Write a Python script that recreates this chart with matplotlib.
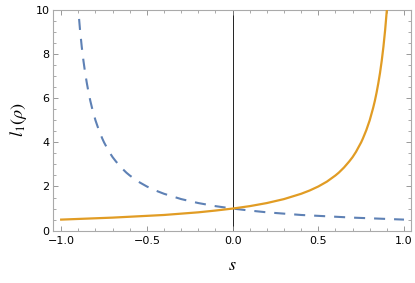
import matplotlib
matplotlib.use("Agg")
import matplotlib.pyplot as plt
from matplotlib.ticker import MultipleLocator

# values
s_orange = [-1.0, -0.9, -0.8, -0.7, -0.6, -0.5, -0.4, -0.3, -0.2, -0.1, 0.0,
            0.1, 0.2, 0.3, 0.4, 0.45, 0.5, 0.55, 0.6, 0.62, 0.65, 0.68, 0.7,
            0.72, 0.75, 0.76, 0.78, 0.8, 0.82, 0.83, 0.84, 0.85, 0.86, 0.87,
            0.88, 0.89, 0.9, 0.905]
l_orange = [0.50, 0.53, 0.56, 0.59, 0.63, 0.67, 0.71, 0.77, 0.83, 0.91, 1.00,
            1.11, 1.25, 1.43, 1.67, 1.82, 2.00, 2.22, 2.50, 2.63, 2.86, 3.13, 3.33,
            3.57, 4.00, 4.17, 4.55, 5.00, 5.56, 5.88, 6.25, 6.67, 7.14, 7.69,
            8.33, 9.09, 10.0, 10.5]

s_blue = [-0.905, -0.9, -0.89, -0.88, -0.87, -0.86, -0.85, -0.84, -0.83, -0.82,
          -0.8, -0.78, -0.76, -0.75, -0.72, -0.7, -0.68, -0.65, -0.62, -0.6,
          -0.55, -0.5, -0.45, -0.4, -0.3, -0.2, -0.1, 0.0, 0.1, 0.2, 0.3, 0.4,
          0.5, 0.6, 0.7, 0.8, 0.9, 1.0]
l_blue = [10.5, 10.0, 9.09, 8.33, 7.69, 7.14, 6.67, 6.25, 5.88, 5.56,
          5.00, 4.55, 4.17, 4.00, 3.57, 3.33, 3.13, 2.86, 2.63, 2.50,
          2.22, 2.00, 1.82, 1.67, 1.43, 1.25, 1.11, 1.00, 0.91, 0.83, 0.77, 0.71,
          0.67, 0.63, 0.59, 0.56, 0.53, 0.50]

plt.rcParams['mathtext.fontset'] = 'stix'

fig = plt.figure(figsize=(4.15, 2.83), dpi=100)
ax = fig.add_axes([0.128, 0.185, 0.862, 0.78])

ax.axvline(0, color='#222222', lw=0.7, zorder=1)
ax.plot(s_blue, l_blue, color='#5E81B5', lw=1.5, dashes=(5.3, 4.3), zorder=2)
ax.plot(s_orange, l_orange, color='#E19C24', lw=1.6, zorder=3)

ax.set_xlim(-1.047, 1.04)
ax.set_ylim(0, 10)

ax.xaxis.set_major_locator(MultipleLocator(0.5))
ax.xaxis.set_minor_locator(MultipleLocator(0.1))
ax.yaxis.set_major_locator(MultipleLocator(2))
ax.yaxis.set_minor_locator(MultipleLocator(0.5))
ax.set_xticks([-1.0, -0.5, 0.0, 0.5, 1.0])
ax.set_xticklabels(['−1.0', '−0.5', '0.0', '0.5', '1.0'])

for sp in ax.spines.values():
    sp.set_color('#aaaaaa')
    sp.set_linewidth(0.8)
ax.tick_params(which='both', direction='in', top=True, right=True,
               color='#888888', labelsize=8, labelcolor='black')
ax.tick_params(axis='x', pad=4)
ax.tick_params(axis='y', pad=2.5)
ax.tick_params(which='major', length=3.5, width=0.6)
ax.tick_params(which='minor', length=2, width=0.5)

ax.set_xlabel(r'$s$', fontsize=13, labelpad=7)
ax.set_ylabel(r'$l_1(\rho)$', fontsize=13, labelpad=5)

fig.savefig('out.png', dpi=100)
